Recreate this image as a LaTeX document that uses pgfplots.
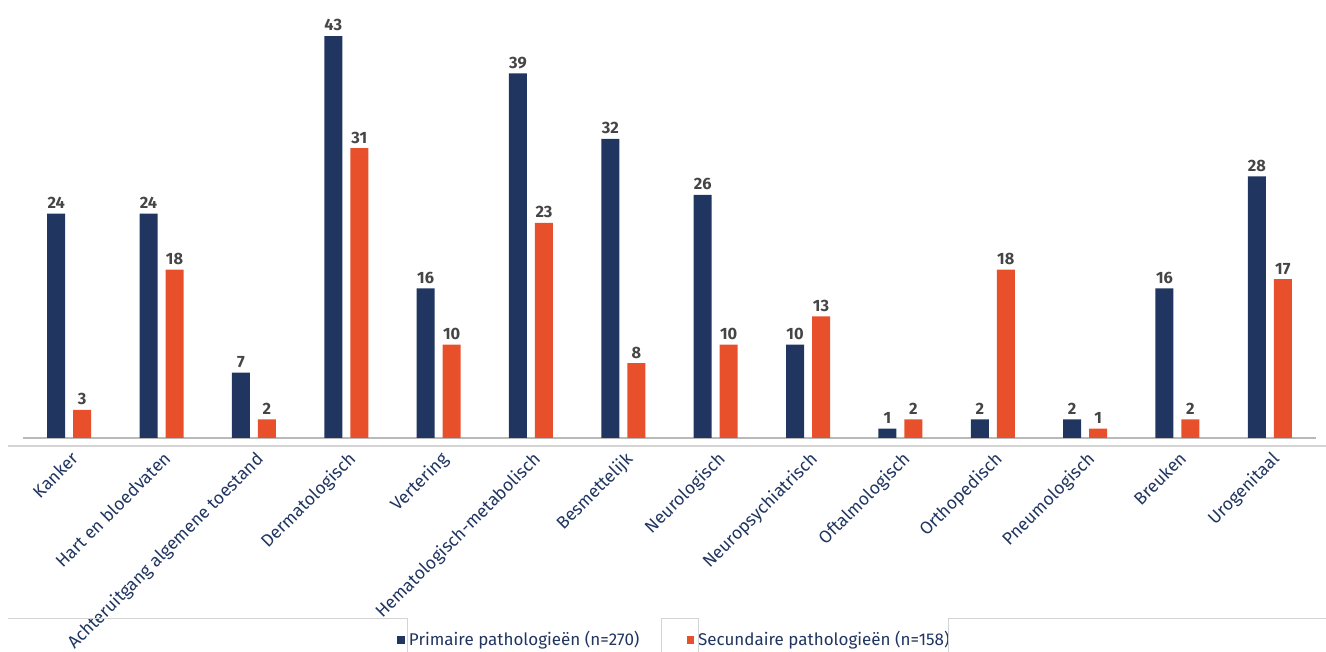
\documentclass[border=0pt]{standalone}
\usepackage{pgfplots}
\pgfplotsset{compat=1.18}
\usepackage{fontspec}
\setmainfont{Fira Sans}
\definecolor{navy}{HTML}{203560}
\definecolor{orng}{HTML}{E8502B}
\definecolor{lbl}{HTML}{454545}
\definecolor{frame}{HTML}{D4D4D4}
\begin{document}
\begin{tikzpicture}[x=1pt,y=1pt]
\useasboundingbox (0,0) rectangle (663,326);
\begin{axis}[
  at={(11.5pt,107pt)}, anchor=south west,
  scale only axis, width=646.5pt, height=215pt,
  xmin=-0.5, xmax=13.5, ymin=0, ymax=46,
  axis y line=none,
  axis x line*=bottom,
  x axis line style={draw=gray!55, line width=0.8pt, -},
  xtick={0,...,13},
  xticklabels={Kanker,Hart en bloedvaten,Achteruitgang algemene toestand,Dermatologisch,Vertering,Hematologisch-metabolisch,Besmettelijk,Neurologisch,Neuropsychiatrisch,Oftalmologisch,Orthopedisch,Pneumologisch,Breuken,Urogenitaal},
  major tick length=0pt,
  xticklabel style={rotate=45, anchor=north east, font=\fontsize{8.8}{10}\selectfont, text=navy, inner sep=1pt, xshift=-3pt, yshift=-3.5pt},
  ybar, bar width=9pt,
  nodes near coords,
  every node near coord/.append style={font=\fontsize{8.2}{9}\bfseries, text=lbl, inner sep=2.2pt},
  /pgf/number format/assume math mode=true,
  legend style={at={(0.5046,-0.47)}, anchor=center, draw=none, fill=none, legend columns=2, font=\fontsize{8.5}{10}\selectfont, text=navy, /tikz/every even column/.append style={column sep=21.5pt}},
  legend image code/.code={\fill[#1] (0pt,-1.9pt) rectangle (3.8pt,1.9pt);},
  clip=false,
]
\addplot[fill=navy, draw=none, bar shift=-6.5pt] coordinates {(0,24) (1,24) (2,7) (3,43) (4,16) (5,39) (6,32) (7,26) (8,10) (9,1) (10,2) (11,2) (12,16) (13,28)};
\addplot[fill=orng, draw=none, bar shift=6.5pt] coordinates {(0,3) (1,18) (2,2) (3,31) (4,10) (5,23) (6,8) (7,10) (8,13) (9,2) (10,18) (11,1) (12,2) (13,17)};
\legend{Primaire pathologieën (n=270), Secundaire pathologieën (n=158)}
\end{axis}
\draw[frame, line width=0.6pt] (4,103) -- (663,103);
\draw[frame, line width=0.5pt] (4,16.5) -- (203.5,16.5) -- (203.5,0);
\draw[frame, line width=0.5pt] (330.5,0) -- (330.5,16.5) -- (349,16.5) -- (349,0);
\draw[frame, line width=0.5pt] (474,0) -- (474,16.5) -- (663,16.5);
\end{tikzpicture}
\end{document}
